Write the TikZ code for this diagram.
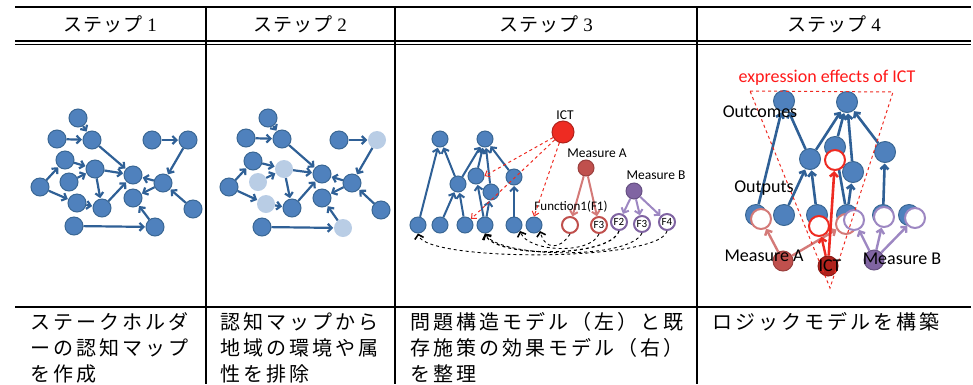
\documentclass[tikz,border=0pt]{standalone}
\usepackage{fontspec}
\setmainfont{Liberation Serif}
\newfontfamily\jp{Noto Sans CJK JP}
\newfontfamily\jph[LetterSpace=6]{Noto Sans CJK JP}
\newfontfamily\jpsp[LetterSpace=15]{Noto Sans CJK JP}
\newfontfamily\lab{Carlito}
\usetikzlibrary{arrows.meta}
\definecolor{nb}{HTML}{4F81BD}
\definecolor{nbd}{HTML}{3A6794}
\definecolor{eb}{HTML}{2F6096}
\definecolor{lb}{HTML}{B9CDE5}
\definecolor{ictr}{HTML}{EE2B22}
\definecolor{ictd}{HTML}{B0221C}
\definecolor{ma}{HTML}{C0504D}
\definecolor{mal}{HTML}{D47A78}
\definecolor{mb}{HTML}{8064A2}
\definecolor{mbl}{HTML}{9D87C2}
\tikzset{
  bn/.style={circle,fill=nb,draw=nbd,line width=1pt,minimum size=18pt,inner sep=0pt},
  ln/.style={circle,fill=lb,draw=none,minimum size=18pt,inner sep=0pt},
  be/.style={draw=eb,line width=2.2pt,-{Straight Barb[length=4pt,width=8pt]},shorten >=0.5pt},
  hdr/.style={font=\fontsize{19}{21}\selectfont},
  body/.style={anchor=base west,font=\jpsp\fontsize{20}{22}\selectfont,inner sep=0pt},
  cbn/.style={circle,fill=nb,draw=nbd,line width=1pt,minimum size=16pt,inner sep=0pt},
  dbn/.style={circle,fill=nb,draw=nbd,line width=1pt,minimum size=21pt,inner sep=0pt},
  ring/.style={circle,fill=white,line width=2pt,inner sep=0pt},
  lbl/.style={font=\lab\fontsize{13.5}{15}\selectfont,inner sep=0pt},
  biglbl/.style={font=\lab\fontsize{18}{20}\selectfont,inner sep=0pt},
  rdash/.style={draw=ictr,dashed,line width=1pt,-{Straight Barb[length=4pt,width=7pt]}},
  kdash/.style={draw=black,dashed,line width=0.9pt,-{Straight Barb[length=4pt,width=9pt,line width=1.6pt]}},
  arr/.style={-{Straight Barb[length=4pt,width=8pt]}},
}
\begin{document}
\begin{tikzpicture}[x=1pt,y=-1pt]
\useasboundingbox (0,0) rectangle (973,384);
% ---------------- table ----------------
\draw[line width=1.6pt] (15,7) -- (971,7);
\draw[line width=1.6pt] (15,41) -- (971,41);
\draw[line width=1.3pt] (15,44.5) -- (971,44.5);
\draw[line width=2pt] (15,307) -- (971,307);
\foreach \x in {206,395,697} \draw[line width=2pt] (\x,7) -- (\x,384);
\node[hdr] (h1) at (110,24) {{\jph ステップ}\ 1};
\node[hdr] (h2) at (300,24) {{\jph ステップ}\ 2};
\node[hdr] (h3) at (546,24) {{\jph ステップ}\ 3};
\node[hdr] (h4) at (834,24) {{\jph ステップ}\ 4};
% body texts
\node[body] (t11) at (30,329) {ステークホルダ};
\node[body] (t12) at (30,355) {ーの認知マップ};
\node[body] (t13) at (30,381) {を作成};
\node[body] (t21) at (220,329) {認知マップから};
\node[body] (t22) at (220,355) {地域の環境や属};
\node[body] (t23) at (220,381) {性を排除};
\node[body] (t31) at (410,329) {問題構造モデル（左）と既};
\node[body] (t32) at (410,355) {存施策の効果モデル（右）};
\node[body] (t33) at (410,381) {を整理};
\node[body] (t41) at (712,329) {ロジックモデルを構築};
% ---------------- step 1 ----------------
\foreach \n/\x/\y in {1/78/118,2/57/139,3/92/140,4/152/140,5/188/140,6/65/160,7/95/169,8/133/175,9/163/183,10/40/187,11/69/182,12/77/203,13/102/208,14/133/198,15/193/209,16/74/226,17/155/227}
  \node[bn] (A\n) at (\x,\y) {};
\foreach \s/\t in {1/3,2/3,3/8,4/5,5/9,6/7,10/6,10/12,11/7,7/8,7/13,12/13,13/8,9/8,9/14,15/9,17/14,16/17}
  \draw[be] (A\s) -- (A\t);
% ---------------- step 2 ----------------
\foreach \n/\x/\y/\st in {1/268/118/bn,2/246/138/bn,3/282/139/bn,4/339/140/bn,5/377/140/ln,6/253/161/bn,7/284/169/ln,8/322/174/bn,9/352/183/bn,10/229/187/bn,11/258/182/ln,12/266/204/ln,13/292/208/bn,14/322/198/bn,15/381/210/bn,16/262/227/bn,17/343/228/ln}
  \node[\st] (B\n) at (\x,\y) {};
\foreach \s/\t in {1/3,2/3,3/8,4/5,5/9,6/7,10/6,10/12,11/7,7/8,7/13,12/13,13/8,9/8,9/14,15/9,17/14,16/17}
  \draw[be] (B\s) -- (B\t);
% ---------------- step 3 ----------------
\foreach \n/\x/\y in {t1/440/139,t2/485/139,m1/458/184,m2/476/176,m3/491/192,m4/514/177,c1/418/225,c2/440/225,c3/465/225,c4/485/225,c5/514/225,c6/534/225}
  \node[cbn] (C\n) at (\x,\y) {};
\foreach \s/\t in {c1/t1,m1/t1,m1/t2,m2/t2,m3/t2,m4/t2,c2/m1,c3/m1,c4/m2,c4/m3,c5/m4}
  \draw[be,line width=2pt] (C\s) -- (C\t);
\node[circle,fill=ictr,draw=ictd,line width=1pt,minimum size=22pt,inner sep=0pt] (Cict) at (563,132) {};
\node[lbl] (Cictl) at (565,115) {ICT};
\node[circle,fill=ma,draw=ma!80!black,line width=1pt,minimum size=16pt,inner sep=0pt] (Cma) at (586,168) {};
\node[lbl] (Cmal) at (597,153) {Measure A};
\node[circle,fill=mb,draw=mb!80!black,line width=1pt,minimum size=16pt,inner sep=0pt] (Cmb) at (634,191) {};
\node[lbl] (Cmbl) at (656,175) {Measure B};
\node[ring,draw=ma,minimum size=16pt] (Cf1) at (570,225) {};
\node[ring,draw=ma,minimum size=16pt,font=\lab\fontsize{11}{12}\selectfont] (Cf3a) at (599,225) {F3};
\node[ring,draw=mb,minimum size=16pt,font=\lab\fontsize{11}{12}\selectfont] (Cf2) at (619,222) {F2};
\node[ring,draw=mb,minimum size=16pt,font=\lab\fontsize{11}{12}\selectfont] (Cf3b) at (642,224) {F3};
\node[ring,draw=mb,minimum size=16pt,font=\lab\fontsize{11}{12}\selectfont] (Cf4) at (667,222) {F4};
\draw[draw=mal,line width=2pt,arr] (Cma) -- (Cf1);
\draw[draw=mal,line width=2pt,arr] (Cma) -- (Cf3a);
\foreach \t in {Cf2,Cf3b,Cf4}
  \draw[draw=mbl,line width=2pt,arr] (Cmb) -- (\t);
\node[font=\lab\fontsize{13}{14}\selectfont,inner sep=0pt] (Cfun) at (571,207) {Function1(F1)};
\draw[rdash] (Cict) -- (Cm2.east);
\draw[rdash] (Cict) -- (Cc3.north east);
\draw[rdash] (Cict) -- (Cc6.north);
\draw[kdash] (Cf1.south) .. controls (560,250) and (545,250) .. (Cc6.south east);
\draw[kdash] (Cf3a.south) .. controls (590,255) and (528,252) .. (Cc5.south east);
\draw[kdash,line width=1.2pt] (Cf2.south) .. controls (610,258) and (495,258) .. (Cc4.south);
\draw[kdash] (Cf3b.south) .. controls (630,260) and (500,258) .. (Cc4.south);
\draw[kdash] (Cf4.south) .. controls (660,262) and (425,262) .. (Cc1.south);
% ---------------- step 4 ----------------
\node[red!90!white,font=\lab\fontsize{18}{20}\selectfont,inner sep=0pt] (Dexp) at (827,78) {expression effects of ICT};
\foreach \n/\x/\y in {o1/784/101,o2/847/102,m1/810/159,m2/835/147,m3/853/172,m4/885/152,n1/756/215,n2/784/215,n3/817/215,n4/847/215,n5/883/215,n6/909/215}
  \node[dbn] (D\n) at (\x,\y) {};
\foreach \s/\t in {n1/o1,m1/o1,m1/o2,m2/o2,m3/o2,m4/o2,n2/m1,n3/m1,n4/m2,n4/m3,n5/m4}
  \draw[be,line width=2.6pt] (D\s) -- (D\t);
\node[ring,draw=ictr,minimum size=20pt] (Dmr) at (835,160) {};
\node[ring,draw=mal,minimum size=20pt] (Da1) at (761,219) {};
\node[ring,draw=mal,minimum size=20pt] (Da2) at (846,224) {};
\node[ring,draw=ictr,minimum size=20pt] (Dr2) at (819,226) {};
\node[ring,draw=mbl,minimum size=20pt] (Dp1) at (854,220) {};
\node[ring,draw=mbl,minimum size=20pt] (Dp2) at (884,217) {};
\node[ring,draw=mbl,minimum size=20pt] (Dp3) at (915,218) {};
\node[circle,fill=ma,draw=ma!80!black,line width=1pt,minimum size=20pt,inner sep=0pt] (Dma) at (783,261) {};
\node[circle,fill=ictd,draw=ictd!80!black,line width=1pt,minimum size=20pt,inner sep=0pt] (Dict) at (828,266) {};
\node[circle,fill=mb,draw=mb!80!black,line width=1pt,minimum size=20pt,inner sep=0pt] (Dmb) at (874,260) {};
\draw[draw=mal,line width=2.4pt,arr] (Dma) -- (Da1);
\draw[draw=mal,line width=2.4pt,arr] (Dma) -- (Da2);
\draw[draw=ictr,line width=2.6pt,arr] (Dict) -- (Dmr);
\draw[draw=ictr,line width=2.4pt,arr] (Dict) -- (Dr2);
\foreach \t in {Dp1,Dp2,Dp3}
  \draw[draw=mbl,line width=2.4pt,arr] (Dmb) -- (\t);
\coordinate (Dtl) at (750,91);
\coordinate (Dtr) at (893,92);
\coordinate (Dtb) at (830,288);
\draw[ictr,dashed,line width=1pt] (Dtl) -- (Dtr) -- (Dtb) -- cycle;
\node[biglbl] (Doc) at (760,112) {Outcomes};
\node[biglbl] (Dop) at (764,188) {Outputs};
\node[biglbl] (Dmal) at (764,256) {Measure A};
\node[biglbl] (Dictl) at (830,266) {ICT};
\node[biglbl] (Dmbl) at (902,259) {Measure B};
\end{tikzpicture}
\end{document}
